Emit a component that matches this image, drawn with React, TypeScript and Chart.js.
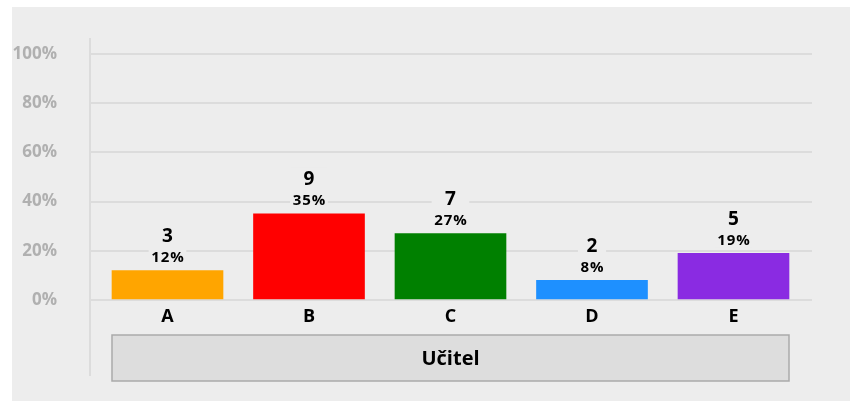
import React, { useEffect, useRef } from "react";
import { Chart, registerables } from "chart.js";

Chart.register(...registerables);

const categories = ["A", "B", "C", "D", "E"];
const counts = [3, 9, 7, 2, 5];
const percents = [12, 35, 27, 8, 19];
const barColors = ["#ffa500", "#ff0000", "#008000", "#1e90ff", "#8a2be2"];
const yTickValues = [0, 20, 40, 60, 80, 100];
const groupLabel = "Učitel";

const FONT = "'Open Sans', 'Noto Sans', sans-serif";
const BG = "#ededed";

const labelPlugin = {
  id: "barLabels",
  afterDatasetsDraw(chart: any) {
    const ctx = chart.ctx;
    const meta = chart.getDatasetMeta(0);
    meta.data.forEach((bar: any, i: number) => {
      const x = bar.x;
      const top = bar.y;
      const cTxt = String(counts[i]);
      const pTxt = percents[i] + "%";
      ctx.save();
      ctx.font = `bold 19px ${FONT}`;
      const cw = ctx.measureText(cTxt).width;
      ctx.font = `bold 15px ${FONT}`;
      (ctx as any).letterSpacing = "1px";
      const pw = ctx.measureText(pTxt).width;
      (ctx as any).letterSpacing = "0px";
      const w = Math.max(cw, pw) + 4;
      ctx.fillStyle = BG;
      ctx.fillRect(x - w / 2, top - 46, w, 40);
      ctx.fillStyle = "#000";
      ctx.textAlign = "center";
      ctx.textBaseline = "middle";
      ctx.font = `bold 19px ${FONT}`;
      ctx.fillText(cTxt, x, top - 34);
      ctx.font = `bold 15px ${FONT}`;
      (ctx as any).letterSpacing = "1px";
      ctx.fillText(pTxt, x + 0.5, top - 13);
      (ctx as any).letterSpacing = "0px";
      ctx.restore();
    });
  },
};

const decorPlugin = {
  id: "decor",
  beforeDatasetsDraw(chart: any) {
    const ctx = chart.ctx;
    const a = chart.chartArea;
    ctx.save();
    ctx.strokeStyle = "#dcdcdc";
    ctx.lineWidth = 2;
    ctx.beginPath();
    ctx.moveTo(a.left, a.top - 16);
    ctx.lineTo(a.left, a.bottom + 76);
    ctx.stroke();
    ctx.restore();
  },
  afterDraw(chart: any) {
    const ctx = chart.ctx;
    const a = chart.chartArea;
    const xs = chart.scales.x;
    const half = 55.5;
    const left = xs.getPixelForValue(0) - half;
    const right = xs.getPixelForValue(categories.length - 1) + half;
    const top = a.bottom + 35;
    const bottom = a.bottom + 81;
    ctx.save();
    ctx.fillStyle = "#dddddd";
    ctx.fillRect(left, top, right - left, bottom - top);
    ctx.strokeStyle = "#aaaaaa";
    ctx.lineWidth = 1.5;
    ctx.strokeRect(left, top, right - left, bottom - top);
    ctx.fillStyle = "#000";
    ctx.textAlign = "center";
    ctx.textBaseline = "middle";
    ctx.font = `bold 20px ${FONT}`;
    ctx.fillText(groupLabel, (left + right) / 2, (top + bottom) / 2 + 1);
    ctx.restore();
  },
};

export default function App() {
  const ref = useRef<HTMLCanvasElement | null>(null);

  useEffect(() => {
    if (!ref.current) return;
    Chart.defaults.font.family = FONT;
    const chart = new Chart(ref.current, {
      type: "bar",
      data: {
        datasets: [
          {
            data: percents.map((p, i) => ({ x: i, y: p })),
            backgroundColor: barColors,
            barThickness: 111,
          } as any,
        ],
      },
      options: {
        responsive: false,
        animation: false,
        layout: { padding: { top: 47, right: 38, left: 0, bottom: 0 } },
        plugins: { legend: { display: false }, tooltip: { enabled: false } },
        scales: {
          x: {
            type: "linear",
            offset: false,
            min: -0.5477,
            max: 4.5548,
            afterBuildTicks: (s: any) => {
              s.ticks = categories.map((_, i) => ({ value: i }));
            },
            afterFit: (s: any) => {
              s.height = 101;
            },
            ticks: {
              callback: (v: any) => categories[v as number] ?? "",
              color: "#000",
              font: { size: 18, weight: "bold" },
              padding: -2,
              autoSkip: false,
              maxRotation: 0,
            },
            grid: { display: false },
            border: { display: false },
          },
          y: {
            min: 0,
            max: 100,
            afterBuildTicks: (s: any) => {
              s.ticks = yTickValues.map((v) => ({ value: v }));
            },
            afterFit: (s: any) => {
              s.width = 78;
            },
            ticks: {
              callback: (v: any) => v + "%",
              color: "#b0b0b0",
              font: { size: 17, weight: "bold" },
              padding: 33,
            },
            grid: { color: "#dcdcdc", lineWidth: 2, drawTicks: false },
            border: { display: false },
          },
        },
      } as any,
      plugins: [decorPlugin, labelPlugin],
    });
    return () => chart.destroy();
  }, []);

  return (
    <div
      style={{
        position: "absolute",
        left: 12,
        top: 7,
        width: 838,
        height: 394,
        background: BG,
      }}
    >
      <canvas ref={ref} width={838} height={394} style={{ display: "block" }} />
    </div>
  );
}
